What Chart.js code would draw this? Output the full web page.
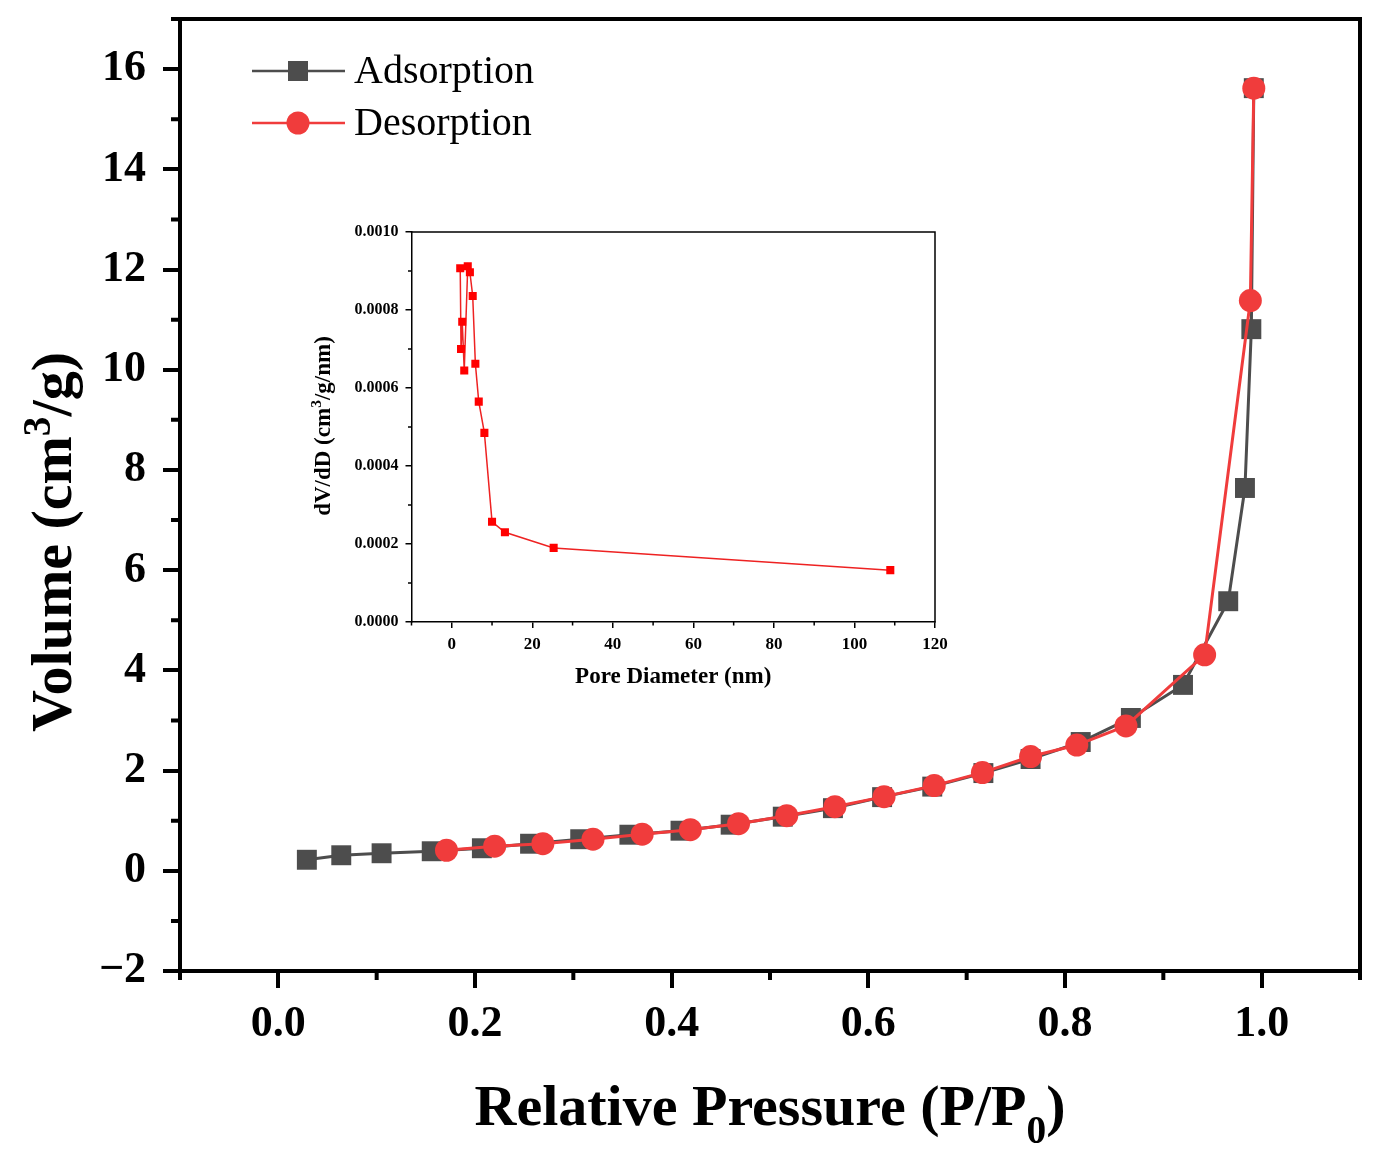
<!DOCTYPE html>
<html>
<head>
<meta charset="utf-8">
<title>N2 isotherm</title>
<script src="https://cdn.jsdelivr.net/npm/chart.js@4.4.1/dist/chart.umd.min.js"></script>
<style>
  body { margin: 0; background: #fff; }
  #wrap { position: relative; width: 1379px; height: 1156px; }
  #mainChart { position: absolute; left: 0; top: 0; }
  #insetChart { position: absolute; left: 300px; top: 220px; }
</style>
</head>
<body>
<div id="wrap">
  <canvas id="mainChart" width="1379" height="1156"></canvas>
  <canvas id="insetChart" width="660" height="480"></canvas>
</div>
<script>
// isotherm
const adsX = [0.029, 0.064, 0.105, 0.156, 0.207, 0.256, 0.307, 0.357, 0.409, 0.460, 0.513, 0.564,
              0.614, 0.665, 0.717, 0.765, 0.816, 0.867, 0.920, 0.966, 0.983, 0.9895, 0.992];
const adsY = [0.22, 0.31, 0.35, 0.39, 0.45, 0.54, 0.63, 0.72, 0.80, 0.92, 1.08, 1.25,
              1.47, 1.68, 1.95, 2.23, 2.57, 3.05, 3.71, 5.38, 7.64, 10.81, 15.62];
const desX = [0.171, 0.220, 0.269, 0.320, 0.370, 0.419, 0.468, 0.517, 0.566, 0.616, 0.667, 0.716,
              0.765, 0.812, 0.862, 0.942, 0.9885, 0.992];
const desY = [0.41, 0.49, 0.54, 0.63, 0.73, 0.82, 0.94, 1.10, 1.28, 1.48, 1.70, 1.96,
              2.28, 2.51, 2.89, 4.31, 11.38, 15.62];

const xTicks = [0, 0.2, 0.4, 0.6, 0.8, 1.0];
const xMinor = [-0.1, 0.1, 0.3, 0.5, 0.7, 0.9, 1.1];
const yTicks = [-2, 0, 2, 4, 6, 8, 10, 12, 14, 16];
const yMinor = [-1, 1, 3, 5, 7, 9, 11, 13, 15, 17];

// inset: pore size distribution
const poreD = [2.1, 2.3, 2.6, 3.1, 3.97, 4.5, 5.2, 5.86, 6.7, 8.1, 10.0, 13.2, 25.3, 108.9];
const dVdD = [0.000907, 0.000700, 0.000770, 0.000645, 0.000912, 0.000897, 0.000836, 0.000662,
              0.000565, 0.000485, 0.000257, 0.000230, 0.000190, 0.000133];

const insetXTicks = [0, 20, 40, 60, 80, 100, 120];
const insetXMinor = [-10, 10, 30, 50, 70, 90, 110];
const insetYTicks = [0, 0.0002, 0.0004, 0.0006, 0.0008, 0.0010];
const insetYMinor = [0.0001, 0.0003, 0.0005, 0.0007, 0.0009];

const SERIF = '"Liberation Serif", "Times New Roman", serif';
const GRAY = '#4d4d4d';
const RED = '#f03c3c';

function toPoints(xs, ys) {
  return xs.map((x, i) => ({ x: x, y: ys[i] }));
}

// text with sub/superscript parts, centred on (x, y)
function richText(ctx, parts, x, y, size, angle) {
  ctx.save();
  ctx.translate(x, y);
  ctx.rotate(angle);
  ctx.fillStyle = '#000';
  ctx.textAlign = 'left';
  ctx.textBaseline = 'alphabetic';
  const fontOf = p => 'bold ' + (p.s ? size * 0.68 : size) + 'px ' + SERIF;
  let total = 0;
  parts.forEach(p => { ctx.font = fontOf(p); total += ctx.measureText(p.t).width; });
  let cx = -total / 2;
  parts.forEach(p => {
    ctx.font = fontOf(p);
    let dy = 0;
    if (p.s > 0) dy = -size * 0.36;
    if (p.s < 0) dy = size * 0.30;
    ctx.fillText(p.t, cx, dy + size * 0.33);
    cx += ctx.measureText(p.t).width;
  });
  ctx.restore();
}

// frame, minor ticks, axis titles, legend
const decor = {
  id: 'decor',
  afterDraw(chart, args, o) {
    const ctx = chart.ctx;
    const a = chart.chartArea;
    const xs = chart.scales.x, ys = chart.scales.y;
    ctx.save();
    ctx.strokeStyle = '#000';
    ctx.lineWidth = o.frame;
    ctx.beginPath();
    ctx.moveTo(a.left - o.frame / 2, a.top);
    ctx.lineTo(a.right, a.top);
    ctx.lineTo(a.right, a.bottom + o.frame / 2);
    ctx.stroke();

    ctx.lineWidth = o.tickWidth;
    ctx.beginPath();
    o.xMinor.forEach(v => {
      const px = xs.getPixelForValue(v);
      ctx.moveTo(px, a.bottom);
      ctx.lineTo(px, a.bottom + o.minorLen);
    });
    o.yMinor.forEach(v => {
      const py = ys.getPixelForValue(v);
      ctx.moveTo(a.left, py);
      ctx.lineTo(a.left - o.minorLen, py);
    });
    ctx.stroke();
    ctx.restore();

    richText(ctx, o.xTitle, (a.left + a.right) / 2, o.xTitleY, o.titleSize, 0);
    richText(ctx, o.yTitle, o.yTitleX, o.yTitleY, o.titleSize, -Math.PI / 2);

    if (o.legend) {
      ctx.save();
      o.legend.forEach((it, i) => {
        const y = o.legendY + i * o.legendGap;
        ctx.strokeStyle = it.color;
        ctx.lineWidth = 2.5;
        ctx.beginPath();
        ctx.moveTo(o.legendX, y);
        ctx.lineTo(o.legendX + 93, y);
        ctx.stroke();
        ctx.fillStyle = it.color;
        const mx = o.legendX + 46;
        if (it.shape === 'rect') {
          ctx.fillRect(mx - 10, y - 10, 20, 20);
        } else {
          ctx.beginPath();
          ctx.arc(mx, y, 11.5, 0, Math.PI * 2);
          ctx.fill();
        }
        ctx.fillStyle = '#000';
        ctx.font = '40px ' + SERIF;
        ctx.textBaseline = 'middle';
        ctx.textAlign = 'left';
        ctx.fillText(it.label, o.legendX + 102, y + 1);
      });
      ctx.restore();
    }
  }
};

function axis(min, max, ticks, fmt, size, fontSize, pad, tickLen, width) {
  return {
    type: 'linear',
    min: min,
    max: max,
    afterBuildTicks: s => { s.ticks = ticks.map(v => ({ value: v })); },
    afterFit: s => {
      if (s.isHorizontal()) s.height = size; else s.width = size;
      s.paddingTop = 0; s.paddingBottom = 0;
      s.paddingLeft = 0; s.paddingRight = 0;
    },
    ticks: {
      callback: fmt,
      autoSkip: false,
      maxRotation: 0,
      padding: pad,
      color: '#000',
      font: { family: SERIF, size: fontSize, weight: 'bold' }
    },
    grid: { drawOnChartArea: false, tickLength: tickLen, tickWidth: width, lineWidth: width, color: '#000' },
    border: { color: '#000', width: width }
  };
}

new Chart(document.getElementById('mainChart'), {
  type: 'scatter',
  data: {
    datasets: [{
      label: 'Adsorption',
      data: toPoints(adsX, adsY),
      showLine: true,
      borderColor: GRAY,
      backgroundColor: GRAY,
      borderWidth: 3,
      pointStyle: 'rect',
      pointRadius: 14.1,
      pointBorderWidth: 0,
      order: 2
    }, {
      label: 'Desorption',
      data: toPoints(desX, desY),
      showLine: true,
      borderColor: RED,
      backgroundColor: RED,
      borderWidth: 3,
      pointStyle: 'circle',
      pointRadius: 11.5,
      pointBorderWidth: 0,
      order: 1
    }]
  },
  options: {
    responsive: false,
    animation: false,
    layout: { padding: { top: 19, right: 19, left: 0, bottom: 0 } },
    plugins: {
      legend: { display: false },
      tooltip: { enabled: false },
      decor: {
        frame: 4, tickWidth: 4, minorLen: 9,
        xMinor: xMinor, yMinor: yMinor,
        titleSize: 58,
        xTitle: [{ t: 'Relative Pressure (P/P' }, { t: '0', s: -1 }, { t: ')' }],
        xTitleY: 1106,
        yTitle: [{ t: 'Volume (cm' }, { t: '3', s: 1 }, { t: '/g)' }],
        yTitleX: 52, yTitleY: 542,
        legend: [
          { label: 'Adsorption', color: GRAY, shape: 'rect' },
          { label: 'Desorption', color: RED, shape: 'circle' }
        ],
        legendX: 252, legendY: 71, legendGap: 52
      }
    },
    scales: {
      x: axis(-0.1, 1.1, xTicks, v => v.toFixed(1), 185, 44, 10, 17, 4),
      y: axis(-2, 17, yTicks, v => (v < 0 ? '\u2212' + Math.abs(v) : String(v)), 180, 44, 17, 17, 4)
    }
  },
  plugins: [decor]
});

new Chart(document.getElementById('insetChart'), {
  type: 'scatter',
  data: {
    datasets: [{
      label: 'PSD',
      data: toPoints(poreD, dVdD),
      showLine: true,
      borderColor: '#ee2222',
      backgroundColor: '#ff0000',
      borderWidth: 1.5,
      pointStyle: 'rect',
      pointRadius: 5.7,
      pointBorderWidth: 0
    }]
  },
  options: {
    responsive: false,
    animation: false,
    layout: { padding: { top: 12, right: 25, left: 0, bottom: 0 } },
    plugins: {
      legend: { display: false },
      tooltip: { enabled: false },
      decor: {
        frame: 1.5, tickWidth: 1.5, minorLen: 3.5,
        xMinor: insetXMinor, yMinor: insetYMinor,
        titleSize: 23,
        xTitle: [{ t: 'Pore Diameter (nm)' }],
        xTitleY: 455,
        yTitle: [{ t: 'dV/dD (cm' }, { t: '3', s: 1 }, { t: '/g/nm)' }],
        yTitleX: 22, yTitleY: 206
      }
    },
    scales: {
      x: axis(-10, 120, insetXTicks, v => String(v), 78, 17, 6, 6, 1.5),
      y: axis(0, 0.001, insetYTicks, v => v.toFixed(4), 111.5, 16, 7, 6, 1.5)
    }
  },
  plugins: [decor]
});
</script>
</body>
</html>
